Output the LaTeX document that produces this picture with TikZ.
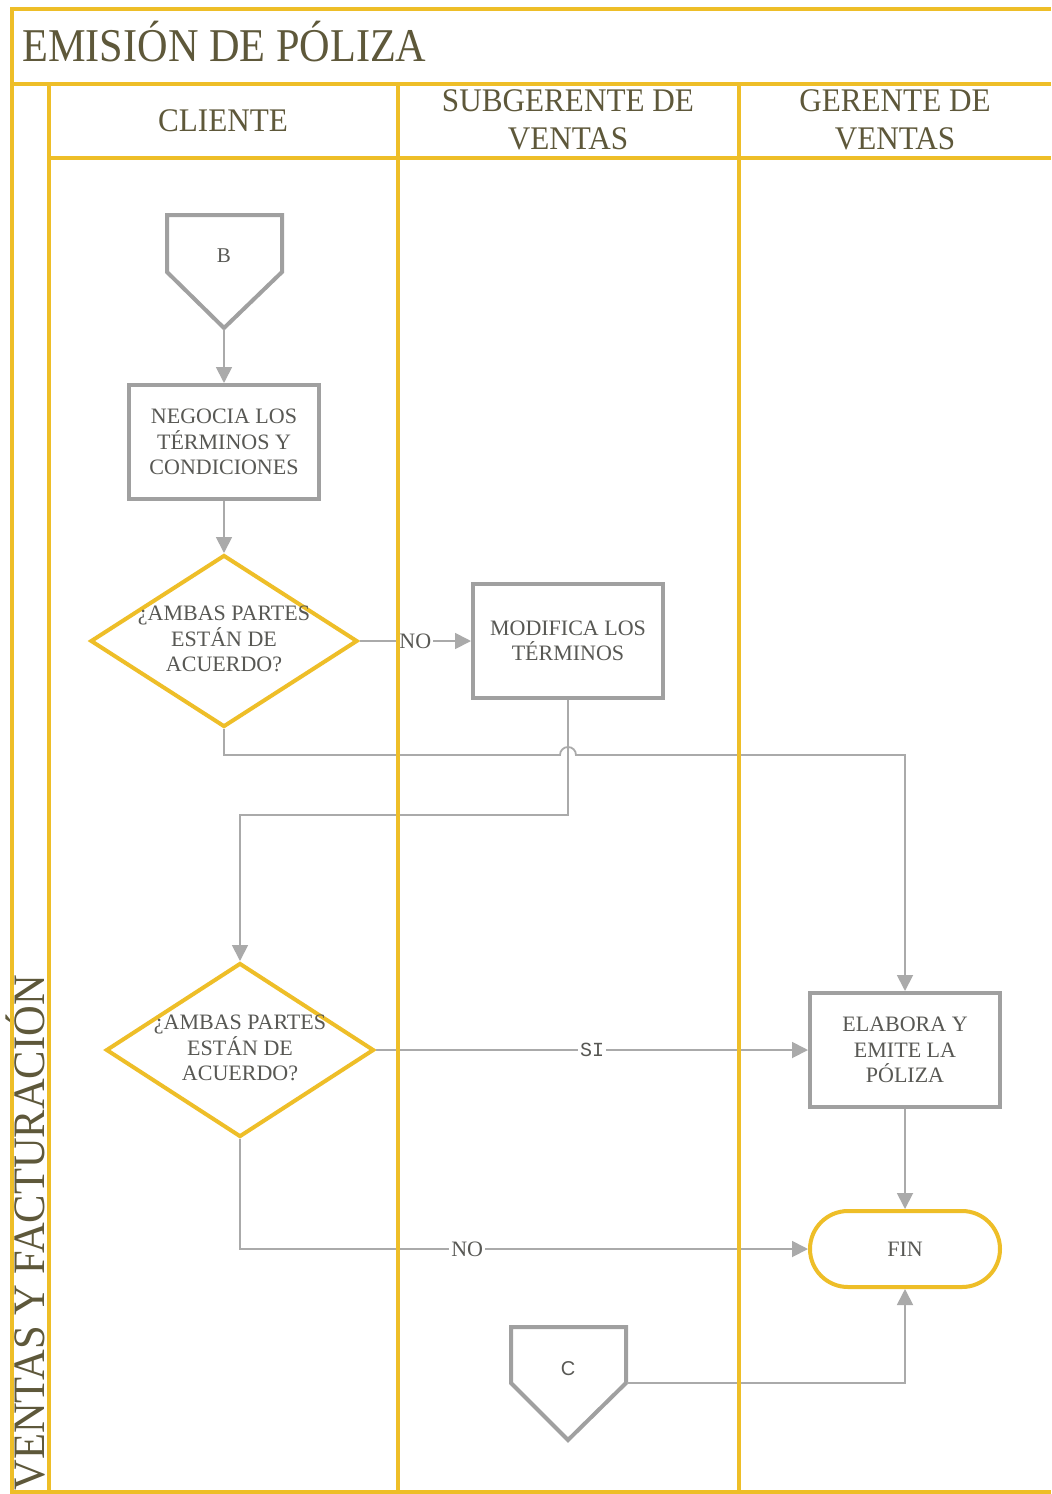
\documentclass[tikz,border=0pt]{standalone}
\usepackage{fontspec}
\setmainfont{Liberation Serif}
\newfontfamily\narrowserif[FakeStretch=0.9]{Liberation Serif}
\newfontfamily\poolserif[FakeStretch=0.945]{Liberation Serif}
\newfontfamily\labelsans{Liberation Sans}
\newfontfamily\labelmono{Liberation Mono}
\usetikzlibrary{arrows.meta,shapes.geometric,shapes.misc}
\definecolor{lanegold}{RGB}{238,190,40}
\definecolor{boxgray}{RGB}{160,160,160}
\definecolor{linegray}{RGB}{170,170,170}
\definecolor{headtext}{RGB}{94,88,58}
\definecolor{nodetext}{RGB}{88,88,84}

\begin{document}
\begin{tikzpicture}[x=0.5pt,y=-0.5pt,
  lane/.style={draw=lanegold,line width=2pt},
  headtxt/.style={text=headtext,font=\poolserif\fontsize{16.5}{19}\selectfont,align=center,inner sep=0pt},
  procbox/.style={draw=boxgray,line width=2pt,fill=white,minimum width=95pt,minimum height=57pt,inner sep=0pt,text=nodetext,font=\fontsize{11}{12.8}\selectfont,align=center},
  decision/.style={diamond,draw=lanegold,line width=2pt,fill=white,inner sep=0pt,minimum width=133.5pt,minimum height=86pt},
  dtext/.style={text=nodetext,font=\fontsize{11}{12.8}\selectfont,align=center,inner sep=0pt},
  ender/.style={rounded rectangle,draw=lanegold,line width=2pt,fill=white,minimum width=95pt,minimum height=38pt,inner sep=0pt,text=nodetext,font=\fontsize{11}{13}\selectfont},
  offpage/.style={draw=boxgray,line width=2pt,fill=white,line join=miter},
  conn/.style={draw=linegray,line width=0.9pt},
  arr/.style={conn,-{Triangle[length=8pt,width=8pt]}},
  flowlbl/.style={fill=white,inner sep=1pt,text=nodetext,font=\fontsize{11}{12}\selectfont},
]
\useasboundingbox (0,0) rectangle (1051,1494);
\fill[white] (0,0) rectangle (1051,1494);

% pool title and lane headers
\node[anchor=base west,inner sep=0pt,text=headtext,font=\narrowserif\fontsize{23.5}{26}\selectfont] (title) at (22,61) {EMISIÓN DE PÓLIZA};
\node[headtxt] (hcli) at (223,121) {CLIENTE};
\node[headtxt] (hsub) at (568,120) {SUBGERENTE DE\\VENTAS};
\node[headtxt] (hger) at (895,120) {GERENTE DE\\VENTAS};
\node[rotate=90,anchor=base west,inner sep=0pt,text=headtext,font=\poolserif\fontsize{22.5}{25}\selectfont] (pool) at (44,1491) {VENTAS Y FACTURACIÓN};

% off-page connector B
\draw[offpage] (167,215) -- (282,215) -- (282,272) -- (224,328) -- (167,272) -- cycle;
\node[inner sep=0pt,text=nodetext,font=\fontsize{10.5}{12}\selectfont] (B) at (224,256) {B};
\coordinate (Btip) at (224,329);

% off-page connector C
\draw[offpage] (511,1327) -- (626,1327) -- (626,1383) -- (568,1440) -- (511,1383) -- cycle;
\node[inner sep=0pt,text=nodetext,font=\labelsans\fontsize{10}{12}\selectfont] (C) at (568,1369) {C};
\coordinate (Cright) at (627,1383);

% process steps and decisions
\node[procbox] (neg) at (224,442) {NEGOCIA LOS\\TÉRMINOS Y\\CONDICIONES};
\node[decision] (d1) at (224,641) {};
\node[dtext] (d1t) at (224,639) {¿AMBAS PARTES\\ESTÁN DE\\ACUERDO?};
\node[procbox] (mod) at (568,641) {MODIFICA LOS\\TÉRMINOS};
\node[decision,minimum height=87pt,minimum width=134pt] (d2) at (240,1050) {};
\node[dtext] (d2t) at (240,1048) {¿AMBAS PARTES\\ESTÁN DE\\ACUERDO?};
\node[procbox] (elab) at (905,1050) {ELABORA Y\\EMITE LA\\PÓLIZA};
\node[ender] (fin) at (905,1249) {FIN};

% connectors
\coordinate (hopL) at (560,755);
\coordinate (bend2) at (568,815);
\draw[arr] (Btip) -- (neg.north);
\draw[arr] (neg.south) -- (d1.north);
\draw[arr] (d1.east) -- node[flowlbl]{NO} (mod.west);
\draw[arr] (d1.south) |- (hopL) arc[start angle=180,end angle=360,radius=8] -| (elab.north);
\draw[arr] (mod.south) -- (bend2) -| (d2.north);
\draw[arr] (d2.east) -- node[flowlbl,font=\labelmono\fontsize{10}{12}\selectfont]{SI} (elab.west);
\draw[arr] (d2.south) |- node[flowlbl,pos=0.7]{NO} (fin.west);
\draw[arr] (elab.south) -- (fin.north);
\draw[arr] (Cright) -| (fin.south);

% pool frame and lane dividers
\draw[lane] (1051,9) -- (12,9) -- (12,1492) -- (1051,1492);
\draw[lane] (12,84) -- (1051,84);
\draw[lane] (49,84) -- (49,1492);
\draw[lane] (49,158) -- (1051,158);
\draw[lane] (398,84) -- (398,1492);
\draw[lane] (739,84) -- (739,1492);
\end{tikzpicture}
\end{document}
